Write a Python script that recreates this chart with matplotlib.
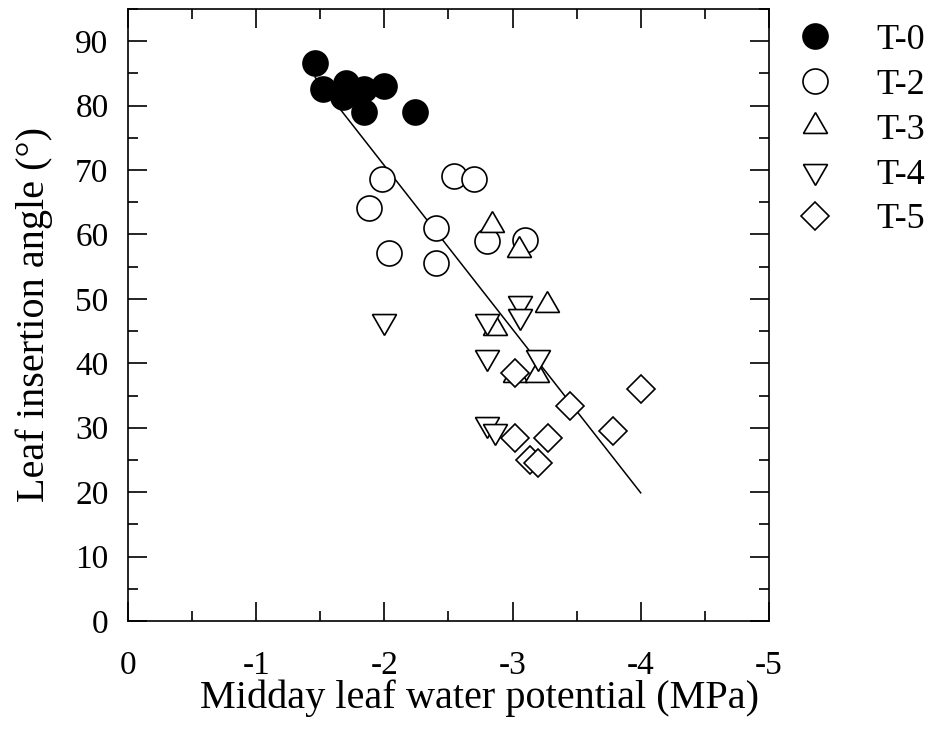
import numpy as np
import matplotlib
matplotlib.use('Agg')
import matplotlib.pyplot as plt
from matplotlib.ticker import MultipleLocator, FuncFormatter

plt.rcParams['font.family'] = ['Liberation Serif', 'DejaVu Serif']
plt.rcParams['axes.unicode_minus'] = False

# T-0
t0_x = [-1.46, -1.52, -1.70, -1.68, -1.76, -1.84, -1.84, -2.00, -2.24]
t0_y = [86.6, 82.6, 83.5, 81.4, 82.0, 82.5, 79.0, 83.1, 79.0]
# T-2
t2_x = [-1.98, -2.54, -2.70, -1.88, -2.40, -2.80, -3.10, -2.04, -2.40]
t2_y = [68.6, 69.1, 68.6, 64.1, 61.0, 59.0, 59.2, 57.1, 55.6]
# T-3
t3_x = [-2.84, -3.05, -3.27, -2.86, -3.02, -3.19]
t3_y = [61.5, 57.6, 49.0, 45.5, 38.2, 38.2]
# T-4
t4_x = [-2.00, -2.80, -3.06, -3.06, -2.80, -3.20, -2.80, -2.86]
t4_y = [46.6, 46.6, 49.3, 47.4, 41.0, 41.0, 30.6, 29.5]
# T-5
t5_x = [-3.02, -3.45, -4.00, -3.78, -3.02, -3.28, -3.14, -3.20]
t5_y = [38.5, 33.4, 36.0, 29.5, 28.4, 28.4, 25.0, 24.5]

# regression line ends
fit_x = [-1.46, -4.00]
fit_y = [84.4, 19.9]

fig = plt.figure(figsize=(9.37, 7.42), dpi=100)
ax = fig.add_axes([0.1366, 0.163, 0.684, 0.825])

ax.plot(fit_x, fit_y, color='black', lw=1.1, zorder=1)

kw = dict(ls='none', mec='black', mew=1.2, zorder=2)
ax.plot(t0_x, t0_y, 'o', mfc='black', ms=18, label='T-0', **kw)
ax.plot(t2_x, t2_y, 'o', mfc='white', ms=18, label='T-2', **kw)
ax.plot(t3_x, t3_y, marker=(3, 0, 0), mfc='white', ms=20, label='T-3', **kw)
ax.plot(t4_x, t4_y, marker=(3, 0, 180), mfc='white', ms=20, label='T-4', **kw)
ax.plot(t5_x, t5_y, 'D', mfc='white', ms=14.5, label='T-5', **kw)

ax.set_xlim(0, -5)
ax.set_ylim(0, 95)
ax.xaxis.set_major_locator(MultipleLocator(1))
ax.xaxis.set_minor_locator(MultipleLocator(0.5))
ax.yaxis.set_minor_locator(MultipleLocator(5))
ax.xaxis.set_major_formatter(FuncFormatter(lambda v, p: '%d' % round(v)))
ax.set_yticks(np.arange(0, 91, 10))

ax.tick_params(which='both', direction='in', top=True, right=True,
               width=1.2, labelsize=24)
ax.tick_params(which='major', length=14)
ax.tick_params(which='minor', length=7)
ax.tick_params(axis='x', pad=21)
ax.tick_params(axis='y', pad=14)
for s in ax.spines.values():
    s.set_linewidth(1.2)

ax.set_xlabel('Midday leaf water potential (MPa)', fontsize=29)
ax.xaxis.label.set_va('baseline')
ax.xaxis.set_label_coords(0.549, -0.1422)
ax.set_ylabel('Leaf insertion angle (\u00b0)', fontsize=29, labelpad=16)

leg = ax.legend(loc='upper left', bbox_to_anchor=(0.8466, 0.968),
                bbox_transform=fig.transFigure, frameon=False,
                fontsize=26, handlelength=1.2, handletextpad=1.1,
                labelspacing=0.32, borderaxespad=0, borderpad=0)

fig.savefig('out.png', dpi=100)
